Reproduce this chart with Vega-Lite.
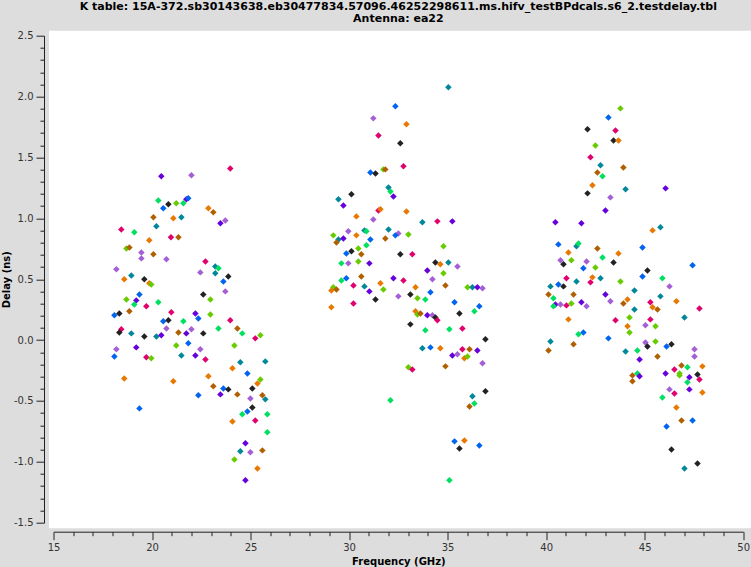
{
  "$schema": "https://vega.github.io/schema/vega-lite/v6.json",
  "width": 689.7,
  "height": 487,
  "autosize": {"type": "none"},
  "padding": {"left": 53.5, "top": 35.7, "right": 7.8, "bottom": 44.3},
  "background": "#dddddd",
  "config": {"view": {"stroke": null, "fill": null}, "font": "DejaVu Sans"},
  "title": {
    "text": ["K table: 15A-372.sb30143638.eb30477834.57096.46252298611.ms.hifv_testBPdcals.s6_2.testdelay.tbl", "Antenna: ea22"],
    "font": "DejaVu Sans", "fontSize": 11, "fontWeight": "bold", "color": "#000000",
    "anchor": "middle", "offset": 6.5, "lineHeight": 12
  },
  "data": {"values": [
    {"x":23.97,"y":1.410,"c":"m"},{"x":20.47,"y":1.345,"c":"p"},{"x":22.00,"y":1.353,"c":"l"},{"x":20.32,"y":1.147,"c":"g"},{"x":20.83,"y":1.115,"c":"k"},{"x":20.57,"y":1.082,"c":"b"},{"x":21.23,"y":1.123,"c":"y"},{"x":21.59,"y":1.123,"c":"g"},{"x":21.74,"y":1.156,"c":"p"},{"x":21.84,"y":1.164,"c":"b"},
    {"x":22.86,"y":1.082,"c":"o"},{"x":23.11,"y":1.049,"c":"n"},{"x":20.07,"y":1.008,"c":"n"},{"x":21.08,"y":1.000,"c":"o"},{"x":21.49,"y":1.008,"c":"t"},{"x":23.47,"y":0.959,"c":"p"},{"x":23.72,"y":0.983,"c":"l"},{"x":20.22,"y":0.934,"c":"t"},{"x":18.44,"y":0.909,"c":"m"},{"x":19.10,"y":0.885,"c":"g"},
    {"x":20.96,"y":0.844,"c":"m"},{"x":21.34,"y":0.844,"c":"n"},{"x":19.86,"y":0.819,"c":"o"},{"x":18.70,"y":0.753,"c":"y"},{"x":18.85,"y":0.761,"c":"n"},{"x":19.46,"y":0.720,"c":"l"},{"x":19.46,"y":0.671,"c":"l"},{"x":20.07,"y":0.704,"c":"n"},{"x":20.73,"y":0.663,"c":"l"},{"x":22.71,"y":0.646,"c":"m"},
    {"x":23.21,"y":0.605,"c":"t"},{"x":23.37,"y":0.589,"c":"g"},{"x":18.19,"y":0.581,"c":"l"},{"x":22.45,"y":0.556,"c":"l"},{"x":23.21,"y":0.548,"c":"t"},{"x":23.87,"y":0.523,"c":"k"},{"x":18.59,"y":0.499,"c":"o"},{"x":18.95,"y":0.531,"c":"t"},{"x":19.61,"y":0.499,"c":"k"},{"x":19.86,"y":0.466,"c":"o"},
    {"x":19.96,"y":0.457,"c":"y"},{"x":23.62,"y":0.482,"c":"b"},{"x":19.36,"y":0.375,"c":"b"},{"x":22.60,"y":0.375,"c":"k"},{"x":23.72,"y":0.400,"c":"l"},{"x":18.70,"y":0.334,"c":"y"},{"x":19.20,"y":0.326,"c":"p"},{"x":19.10,"y":0.293,"c":"g"},{"x":20.32,"y":0.310,"c":"g"},{"x":19.71,"y":0.277,"c":"m"},
    {"x":22.96,"y":0.334,"c":"y"},{"x":18.09,"y":0.203,"c":"b"},{"x":18.34,"y":0.219,"c":"k"},{"x":18.85,"y":0.236,"c":"n"},{"x":20.98,"y":0.228,"c":"m"},{"x":22.20,"y":0.219,"c":"p"},{"x":22.96,"y":0.211,"c":"y"},{"x":22.35,"y":0.178,"c":"b"},{"x":20.57,"y":0.154,"c":"b"},{"x":20.83,"y":0.162,"c":"k"},
    {"x":21.59,"y":0.154,"c":"g"},{"x":23.97,"y":0.162,"c":"m"},{"x":18.44,"y":0.088,"c":"m"},{"x":18.34,"y":0.063,"c":"k"},{"x":18.95,"y":0.055,"c":"t"},{"x":19.61,"y":0.030,"c":"k"},{"x":20.22,"y":0.030,"c":"t"},{"x":20.47,"y":0.039,"c":"p"},{"x":20.73,"y":0.096,"c":"l"},{"x":21.34,"y":0.063,"c":"n"},
    {"x":21.74,"y":0.055,"c":"p"},{"x":22.00,"y":0.088,"c":"l"},{"x":22.60,"y":0.055,"c":"k"},{"x":23.37,"y":0.096,"c":"g"},{"x":24.33,"y":0.096,"c":"n"},{"x":24.58,"y":0.055,"c":"g"},{"x":25.24,"y":0.014,"c":"m"},{"x":25.50,"y":0.039,"c":"y"},{"x":21.23,"y":-0.044,"c":"y"},{"x":21.84,"y":-0.027,"c":"b"},
    {"x":24.18,"y":-0.044,"c":"y"},{"x":18.19,"y":-0.076,"c":"l"},{"x":19.20,"y":-0.060,"c":"p"},{"x":22.45,"y":-0.076,"c":"l"},{"x":18.09,"y":-0.134,"c":"b"},{"x":19.71,"y":-0.142,"c":"m"},{"x":19.96,"y":-0.150,"c":"y"},{"x":21.49,"y":-0.126,"c":"t"},{"x":22.20,"y":-0.126,"c":"p"},{"x":22.71,"y":-0.159,"c":"m"},
    {"x":24.48,"y":-0.183,"c":"t"},{"x":25.75,"y":-0.175,"c":"t"},{"x":18.59,"y":-0.315,"c":"o"},{"x":21.08,"y":-0.339,"c":"o"},{"x":22.86,"y":-0.298,"c":"o"},{"x":24.08,"y":-0.232,"c":"o"},{"x":24.84,"y":-0.274,"c":"b"},{"x":25.50,"y":-0.323,"c":"y"},{"x":25.35,"y":-0.356,"c":"o"},{"x":23.11,"y":-0.380,"c":"n"},
    {"x":23.62,"y":-0.397,"c":"b"},{"x":23.87,"y":-0.405,"c":"k"},{"x":23.47,"y":-0.446,"c":"p"},{"x":22.35,"y":-0.454,"c":"b"},{"x":24.33,"y":-0.446,"c":"n"},{"x":25.09,"y":-0.397,"c":"k"},{"x":25.60,"y":-0.454,"c":"n"},{"x":24.99,"y":-0.479,"c":"l"},{"x":25.75,"y":-0.487,"c":"t"},{"x":19.36,"y":-0.561,"c":"b"},
    {"x":25.09,"y":-0.553,"c":"k"},{"x":24.84,"y":-0.586,"c":"b"},{"x":24.58,"y":-0.610,"c":"g"},{"x":25.85,"y":-0.610,"c":"g"},{"x":24.08,"y":-0.668,"c":"o"},{"x":25.24,"y":-0.660,"c":"m"},{"x":25.85,"y":-0.758,"c":"g"},{"x":24.74,"y":-0.848,"c":"p"},{"x":24.48,"y":-0.914,"c":"t"},{"x":24.99,"y":-0.922,"c":"l"},
    {"x":25.60,"y":-0.906,"c":"n"},{"x":24.18,"y":-0.980,"c":"y"},{"x":25.35,"y":-1.054,"c":"o"},{"x":24.74,"y":-1.152,"c":"p"},

    {"x":35.04,"y":2.076,"c":"t"},{"x":32.35,"y":1.920,"c":"b"},{"x":31.23,"y":1.821,"c":"l"},{"x":32.91,"y":1.772,"c":"o"},{"x":31.49,"y":1.681,"c":"m"},{"x":32.60,"y":1.616,"c":"k"},{"x":32.76,"y":1.427,"c":"m"},{"x":31.08,"y":1.377,"c":"b"},{"x":31.34,"y":1.369,"c":"k"},{"x":31.74,"y":1.402,"c":"y"},
    {"x":31.84,"y":1.402,"c":"n"},{"x":32.00,"y":1.254,"c":"t"},{"x":32.10,"y":1.221,"c":"g"},{"x":32.25,"y":1.180,"c":"p"},{"x":30.12,"y":1.197,"c":"k"},{"x":29.46,"y":1.156,"c":"t"},{"x":29.71,"y":1.106,"c":"p"},{"x":30.37,"y":1.016,"c":"o"},{"x":31.49,"y":1.065,"c":"m"},{"x":31.59,"y":1.074,"c":"o"},
    {"x":32.91,"y":1.057,"c":"o"},{"x":31.23,"y":0.991,"c":"l"},{"x":33.72,"y":0.967,"c":"t"},{"x":34.48,"y":0.975,"c":"m"},{"x":35.24,"y":0.975,"c":"p"},{"x":29.20,"y":0.860,"c":"y"},{"x":29.96,"y":0.893,"c":"l"},{"x":30.37,"y":0.860,"c":"o"},{"x":30.78,"y":0.901,"c":"t"},{"x":30.88,"y":0.893,"c":"g"},
    {"x":32.00,"y":0.909,"c":"t"},{"x":32.50,"y":0.876,"c":"l"},{"x":32.35,"y":0.860,"c":"b"},{"x":33.01,"y":0.868,"c":"y"},{"x":29.46,"y":0.827,"c":"t"},{"x":29.36,"y":0.802,"c":"n"},{"x":29.71,"y":0.835,"c":"p"},{"x":31.08,"y":0.827,"c":"b"},{"x":31.84,"y":0.835,"c":"n"},{"x":30.47,"y":0.753,"c":"y"},
    {"x":30.88,"y":0.778,"c":"g"},{"x":34.79,"y":0.770,"c":"y"},{"x":29.86,"y":0.712,"c":"b"},{"x":30.12,"y":0.729,"c":"k"},{"x":30.62,"y":0.704,"c":"n"},{"x":32.60,"y":0.704,"c":"k"},{"x":33.21,"y":0.704,"c":"m"},{"x":29.61,"y":0.630,"c":"g"},{"x":29.96,"y":0.630,"c":"l"},{"x":30.47,"y":0.646,"c":"y"},
    {"x":31.03,"y":0.630,"c":"p"},{"x":34.38,"y":0.638,"c":"k"},{"x":34.63,"y":0.622,"c":"o"},{"x":35.04,"y":0.638,"c":"t"},{"x":35.50,"y":0.605,"c":"l"},{"x":33.97,"y":0.572,"c":"p"},{"x":34.79,"y":0.548,"c":"y"},{"x":30.62,"y":0.523,"c":"n"},{"x":29.86,"y":0.507,"c":"b"},{"x":32.25,"y":0.507,"c":"p"},
    {"x":29.61,"y":0.490,"c":"g"},{"x":32.76,"y":0.490,"c":"m"},{"x":34.23,"y":0.499,"c":"l"},{"x":29.20,"y":0.433,"c":"y"},{"x":29.10,"y":0.408,"c":"o"},{"x":29.36,"y":0.416,"c":"n"},{"x":30.22,"y":0.449,"c":"m"},{"x":30.78,"y":0.441,"c":"t"},{"x":31.03,"y":0.400,"c":"p"},{"x":31.59,"y":0.466,"c":"o"},
    {"x":31.74,"y":0.416,"c":"y"},{"x":33.37,"y":0.433,"c":"o"},{"x":34.89,"y":0.449,"c":"n"},{"x":36.01,"y":0.433,"c":"y"},{"x":36.26,"y":0.433,"c":"t"},{"x":36.51,"y":0.433,"c":"p"},{"x":36.77,"y":0.425,"c":"l"},{"x":29.10,"y":0.269,"c":"o"},{"x":30.22,"y":0.301,"c":"m"},{"x":31.34,"y":0.334,"c":"k"},
    {"x":32.50,"y":0.359,"c":"l"},{"x":33.11,"y":0.375,"c":"k"},{"x":33.47,"y":0.343,"c":"y"},{"x":33.87,"y":0.334,"c":"g"},{"x":34.13,"y":0.392,"c":"b"},{"x":35.35,"y":0.310,"c":"b"},{"x":36.61,"y":0.277,"c":"b"},{"x":33.37,"y":0.236,"c":"o"},{"x":33.47,"y":0.211,"c":"y"},{"x":33.62,"y":0.219,"c":"n"},
    {"x":33.97,"y":0.203,"c":"p"},{"x":34.23,"y":0.203,"c":"l"},{"x":34.38,"y":0.186,"c":"k"},{"x":34.48,"y":0.162,"c":"m"},{"x":35.60,"y":0.219,"c":"k"},{"x":36.36,"y":0.236,"c":"g"},{"x":33.11,"y":0.129,"c":"k"},{"x":33.87,"y":0.080,"c":"g"},{"x":35.09,"y":0.088,"c":"g"},{"x":35.75,"y":0.096,"c":"m"},
    {"x":36.92,"y":0.006,"c":"k"},{"x":33.72,"y":-0.068,"c":"t"},{"x":34.13,"y":-0.060,"c":"b"},{"x":34.63,"y":-0.068,"c":"o"},{"x":35.75,"y":-0.076,"c":"m"},{"x":36.11,"y":-0.076,"c":"n"},{"x":36.51,"y":-0.085,"c":"p"},{"x":35.24,"y":-0.126,"c":"p"},{"x":35.50,"y":-0.117,"c":"l"},{"x":35.85,"y":-0.150,"c":"o"},
    {"x":36.01,"y":-0.134,"c":"y"},{"x":36.77,"y":-0.191,"c":"l"},{"x":34.89,"y":-0.216,"c":"n"},{"x":33.01,"y":-0.224,"c":"y"},{"x":33.21,"y":-0.241,"c":"m"},{"x":36.92,"y":-0.421,"c":"k"},{"x":36.26,"y":-0.462,"c":"t"},{"x":36.36,"y":-0.520,"c":"g"},{"x":36.11,"y":-0.545,"c":"n"},{"x":32.10,"y":-0.495,"c":"g"},
    {"x":35.35,"y":-0.832,"c":"b"},{"x":35.85,"y":-0.824,"c":"o"},{"x":35.60,"y":-0.890,"c":"k"},{"x":36.61,"y":-0.865,"c":"b"},{"x":35.09,"y":-1.152,"c":"g"},

    {"x":43.77,"y":1.903,"c":"y"},{"x":43.16,"y":1.829,"c":"b"},{"x":42.10,"y":1.731,"c":"k"},{"x":43.52,"y":1.722,"c":"m"},{"x":43.42,"y":1.640,"c":"k"},{"x":43.67,"y":1.640,"c":"o"},{"x":42.50,"y":1.599,"c":"y"},{"x":42.25,"y":1.501,"c":"m"},{"x":42.76,"y":1.435,"c":"t"},{"x":43.92,"y":1.418,"c":"n"},
    {"x":42.60,"y":1.377,"c":"n"},{"x":42.86,"y":1.345,"c":"g"},{"x":42.35,"y":1.271,"c":"o"},{"x":44.03,"y":1.238,"c":"t"},{"x":46.06,"y":1.246,"c":"p"},{"x":42.10,"y":1.205,"c":"k"},{"x":43.26,"y":1.172,"c":"l"},{"x":43.01,"y":1.065,"c":"p"},{"x":40.47,"y":0.967,"c":"p"},{"x":41.79,"y":0.959,"c":"p"},
    {"x":45.40,"y":0.901,"c":"o"},{"x":45.80,"y":0.926,"c":"t"},{"x":40.62,"y":0.786,"c":"b"},{"x":41.54,"y":0.770,"c":"t"},{"x":41.64,"y":0.794,"c":"g"},{"x":42.60,"y":0.753,"c":"n"},{"x":44.89,"y":0.761,"c":"b"},{"x":41.13,"y":0.720,"c":"o"},{"x":43.67,"y":0.712,"c":"o"},{"x":42.86,"y":0.679,"c":"g"},
    {"x":40.73,"y":0.655,"c":"l"},{"x":40.88,"y":0.622,"c":"k"},{"x":41.28,"y":0.655,"c":"y"},{"x":42.05,"y":0.646,"c":"l"},{"x":43.42,"y":0.638,"c":"k"},{"x":41.89,"y":0.589,"c":"b"},{"x":42.50,"y":0.597,"c":"y"},{"x":47.43,"y":0.614,"c":"b"},{"x":45.14,"y":0.572,"c":"k"},{"x":44.89,"y":0.523,"c":"b"},
    {"x":45.90,"y":0.507,"c":"g"},{"x":41.03,"y":0.507,"c":"m"},{"x":42.35,"y":0.515,"c":"o"},{"x":42.76,"y":0.507,"c":"t"},{"x":40.22,"y":0.441,"c":"t"},{"x":40.62,"y":0.457,"c":"b"},{"x":40.88,"y":0.441,"c":"k"},{"x":41.54,"y":0.482,"c":"t"},{"x":42.25,"y":0.474,"c":"m"},{"x":43.77,"y":0.482,"c":"y"},
    {"x":44.48,"y":0.408,"c":"t"},{"x":46.26,"y":0.441,"c":"l"},{"x":40.12,"y":0.375,"c":"n"},{"x":41.39,"y":0.375,"c":"n"},{"x":43.01,"y":0.375,"c":"p"},{"x":40.37,"y":0.343,"c":"g"},{"x":40.47,"y":0.293,"c":"p"},{"x":40.37,"y":0.277,"c":"g"},{"x":40.73,"y":0.293,"c":"l"},{"x":41.03,"y":0.285,"c":"m"},
    {"x":41.28,"y":0.301,"c":"y"},{"x":41.79,"y":0.310,"c":"p"},{"x":42.05,"y":0.277,"c":"l"},{"x":43.26,"y":0.318,"c":"l"},{"x":43.92,"y":0.301,"c":"n"},{"x":44.13,"y":0.334,"c":"o"},{"x":45.80,"y":0.359,"c":"t"},{"x":46.61,"y":0.318,"c":"o"},{"x":45.29,"y":0.310,"c":"m"},{"x":45.40,"y":0.269,"c":"o"},
    {"x":45.65,"y":0.252,"c":"n"},{"x":44.48,"y":0.252,"c":"t"},{"x":47.78,"y":0.260,"c":"m"},{"x":41.13,"y":0.170,"c":"o"},{"x":43.52,"y":0.162,"c":"m"},{"x":44.23,"y":0.186,"c":"y"},{"x":45.29,"y":0.170,"c":"m"},{"x":47.02,"y":0.186,"c":"t"},{"x":44.13,"y":0.113,"c":"o"},{"x":45.04,"y":0.121,"c":"l"},
    {"x":45.55,"y":0.113,"c":"y"},{"x":44.23,"y":0.063,"c":"y"},{"x":41.64,"y":0.047,"c":"g"},{"x":41.89,"y":0.063,"c":"b"},{"x":43.16,"y":0.014,"c":"b"},{"x":40.22,"y":-0.011,"c":"t"},{"x":40.12,"y":-0.085,"c":"n"},{"x":41.39,"y":-0.035,"c":"n"},{"x":45.04,"y":-0.019,"c":"l"},{"x":45.55,"y":-0.011,"c":"y"},
    {"x":45.14,"y":-0.052,"c":"k"},{"x":46.11,"y":-0.052,"c":"b"},{"x":46.36,"y":-0.035,"c":"k"},{"x":47.53,"y":-0.076,"c":"l"},{"x":44.03,"y":-0.093,"c":"t"},{"x":44.63,"y":-0.085,"c":"g"},{"x":44.74,"y":-0.159,"c":"p"},{"x":45.65,"y":-0.134,"c":"n"},{"x":47.53,"y":-0.134,"c":"l"},{"x":46.87,"y":-0.208,"c":"n"},
    {"x":47.93,"y":-0.216,"c":"o"},{"x":47.17,"y":-0.224,"c":"g"},{"x":46.51,"y":-0.241,"c":"m"},{"x":46.06,"y":-0.274,"c":"p"},{"x":46.77,"y":-0.274,"c":"y"},{"x":46.77,"y":-0.290,"c":"y"},{"x":47.68,"y":-0.282,"c":"k"},{"x":47.27,"y":-0.306,"c":"p"},{"x":47.78,"y":-0.323,"c":"m"},{"x":44.63,"y":-0.274,"c":"g"},
    {"x":44.74,"y":-0.298,"c":"p"},{"x":44.38,"y":-0.290,"c":"n"},{"x":44.38,"y":-0.339,"c":"n"},{"x":47.17,"y":-0.347,"c":"g"},{"x":46.26,"y":-0.405,"c":"l"},{"x":46.51,"y":-0.438,"c":"m"},{"x":47.27,"y":-0.405,"c":"p"},{"x":47.93,"y":-0.430,"c":"o"},{"x":45.90,"y":-0.471,"c":"g"},{"x":46.61,"y":-0.553,"c":"o"},
    {"x":46.87,"y":-0.660,"c":"n"},{"x":47.43,"y":-0.660,"c":"b"},{"x":46.11,"y":-0.709,"c":"b"},{"x":46.36,"y":-0.898,"c":"k"},{"x":47.68,"y":-1.013,"c":"k"},{"x":47.02,"y":-1.054,"c":"t"}
  ]},
  "layer": [
    {
      "data": {"values": [{}]},
      "mark": {"type": "rect", "color": "#ffffff"},
      "encoding": {
        "x": {"datum": 14.772, "type": "quantitative", "scale": {"domain": [15, 50], "nice": false, "zero": false}},
        "x2": {"datum": 50.41},
        "y": {"datum": 2.54, "type": "quantitative", "scale": {"domain": [-1.5, 2.5], "nice": false, "zero": false}},
        "y2": {"datum": -1.545}
      }
    },
    {
      "mark": {"type": "point", "shape": "diamond", "filled": true, "size": 42, "opacity": 1},
      "encoding": {
        "x": {
          "field": "x", "type": "quantitative",
          "scale": {"domain": [15, 50], "nice": false, "zero": false},
          "axis": {
            "title": "Frequency (GHz)",
            "values": [15,16,17,18,19,20,21,22,23,24,25,26,27,28,29,30,31,32,33,34,35,36,37,38,39,40,41,42,43,44,45,46,47,48,49,50],
            "tickCount": 200,
            "labelExpr": "datum.value % 5 === 0 ? format(datum.value, 'd') : ''",
            "labelOverlap": false,
            "labelFlush": false,
            "offset": 9,
            "grid": false,
            "domainColor": "#222222",
            "tickColor": "#222222",
            "tickSize": {"condition": {"test": "datum.value % 5 === 0", "value": 8}, "value": 4},
            "labelFont": "DejaVu Sans", "labelFontSize": 10, "labelColor": "#333333", "labelPadding": 3,
            "titleFont": "DejaVu Sans", "titleFontSize": 10, "titleFontWeight": "bold", "titleColor": "#000000", "titlePadding": 4
          }
        },
        "y": {
          "field": "y", "type": "quantitative",
          "scale": {"domain": [-1.5, 2.5], "nice": false, "zero": false},
          "axis": {
            "title": "Delay (ns)",
            "values": [-1.5,-1.4,-1.3,-1.2,-1.1,-1.0,-0.9,-0.8,-0.7,-0.6,-0.5,-0.4,-0.3,-0.2,-0.1,0,0.1,0.2,0.3,0.4,0.5,0.6,0.7,0.8,0.9,1.0,1.1,1.2,1.3,1.4,1.5,1.6,1.7,1.8,1.9,2.0,2.1,2.2,2.3,2.4,2.5],
            "tickCount": 200,
            "labelExpr": "abs(datum.value * 2 - round(datum.value * 2)) < 0.001 ? replace(format(datum.value, '.1f'), '\u2212', '-') : ''",
            "labelOverlap": false,
            "labelFlush": false,
            "offset": 9.5,
            "grid": false,
            "domainColor": "#222222",
            "tickColor": "#222222",
            "tickSize": {"condition": {"test": "abs(datum.value * 2 - round(datum.value * 2)) < 0.001", "value": 8}, "value": 4},
            "labelFont": "DejaVu Sans", "labelFontSize": 10, "labelColor": "#333333", "labelPadding": 3,
            "titleFont": "DejaVu Sans", "titleFontSize": 10, "titleFontWeight": "bold", "titleColor": "#000000", "titlePadding": 2
          }
        },
        "color": {
          "field": "c", "type": "nominal", "legend": null,
          "scale": {
            "domain": ["m","p","l","b","t","g","y","o","n","k"],
            "range": ["#e0006e","#6600dd","#a45fd6","#0064f0","#00879a","#00e060","#66cc00","#e87800","#b06000","#222222"]
          }
        }
      }
    }
  ]
}
